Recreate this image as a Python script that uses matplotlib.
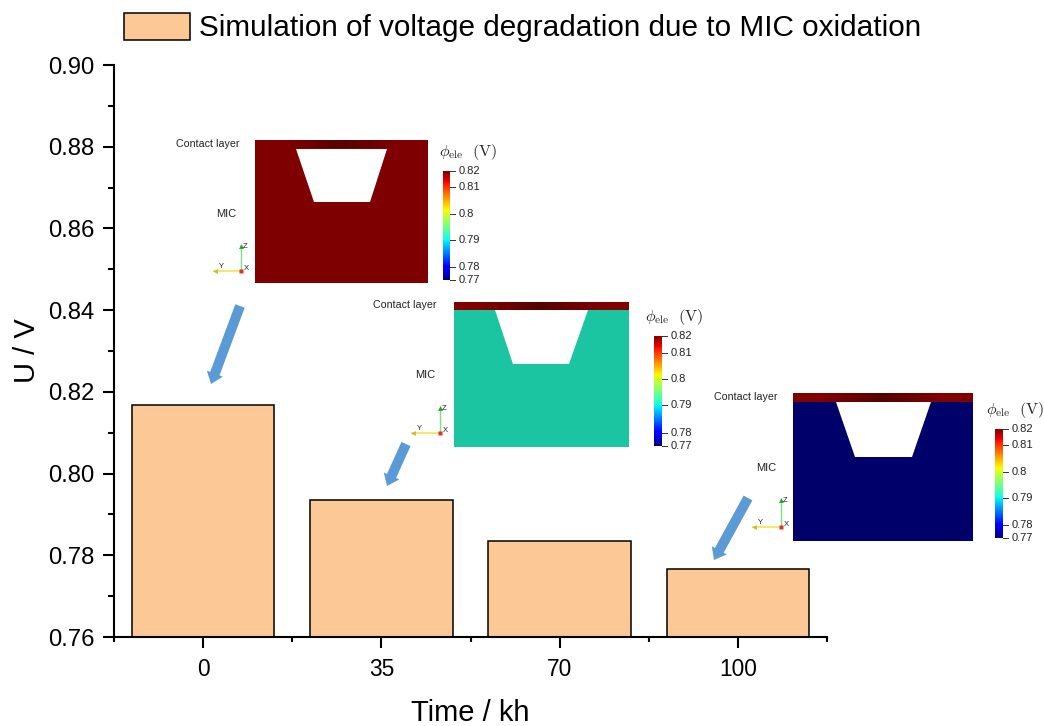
import numpy as np
import matplotlib
matplotlib.use("Agg")
import matplotlib.pyplot as plt
from matplotlib.colors import LinearSegmentedColormap
from matplotlib.patches import FancyArrow, Polygon, Rectangle
from matplotlib.ticker import MultipleLocator

plt.rcParams["font.family"] = ["Liberation Sans", "DejaVu Sans"]
plt.rcParams["mathtext.fontset"] = "cm"

# bar chart data
times = ["0", "35", "70", "100"]
voltages = [0.8168, 0.7935, 0.7836, 0.7766]
series_label = "Simulation of voltage degradation due to MIC oxidation"

# colour scale of the simulation snapshots
cbar_labels = ["0.82", "0.81", "0.8", "0.79", "0.78", "0.77"]
cbar_fracs = [0.0, 0.15, 0.39, 0.63, 0.88, 1.0]

BAR_COLOR = "#FCC896"
ARROW_COLOR = "#5B9BD5"
CONTACT_CMAP = LinearSegmentedColormap.from_list("contact", ["#800000", "#560000", "#800000"])

W, H = 1044, 726
fig = plt.figure(figsize=(W / 100, H / 100), dpi=100)


def px_axes(left, right, top, bottom):
    return fig.add_axes([left / W, 1 - bottom / H, (right - left) / W, (bottom - top) / H])


ax = px_axes(114, 827, 65, 637)
x = np.arange(len(times))
ax.bar(x, voltages, width=0.8, color=BAR_COLOR, edgecolor="black", linewidth=1.1, label=series_label)
ax.set_xlim(-0.5, 3.5)
ax.set_ylim(0.76, 0.90)
ax.set_xticks(x)
ax.set_xticklabels(times)
ax.xaxis.set_minor_locator(MultipleLocator(1, offset=0.5))
ax.yaxis.set_major_locator(MultipleLocator(0.02))
ax.yaxis.set_minor_locator(MultipleLocator(0.01))
ax.yaxis.set_major_formatter(lambda v, pos: f"{v:.2f}")
ax.spines[["top", "right"]].set_visible(False)
ax.spines[["left", "bottom"]].set_linewidth(1.5)
ax.tick_params(axis="y", which="major", length=8, width=1.5, labelsize=17.2, pad=6)
ax.tick_params(axis="x", which="major", length=8, width=1.5, labelsize=16.4, pad=7)
ax.tick_params(axis="y", which="minor", length=4.3, width=1.5)
ax.tick_params(axis="x", which="minor", length=3.7, width=1.5)
ax.set_xlabel("Time / kh", fontsize=21, labelpad=13)
ax.set_ylabel("U / V", fontsize=21, labelpad=5)
ax.legend(loc="center left", bbox_to_anchor=(124 / W, 1 - 27.5 / H), bbox_transform=fig.transFigure,
          frameon=False, fontsize=21.4, borderpad=0, borderaxespad=0,
          handlelength=2.22, handleheight=1.04, handletextpad=0.3)

# overlay in image pixels for the pasted simulation snapshots
ov = fig.add_axes([0, 0, 1, 1], facecolor="none")
ov.set_axis_off()


def draw_snapshot(box, contact_bottom, trap, body_color, cbar_box, title_xy, contact_xy, mic_xy, triad, arrow):
    x0, x1, y0, y1 = box
    ov.add_patch(Rectangle((x0, y0), x1 - x0, y1 - y0, facecolor=body_color, edgecolor="none", zorder=1))
    ov.imshow([[0, 0.5, 1]], extent=(x0, x1, contact_bottom, y0), cmap=CONTACT_CMAP,
              aspect="auto", interpolation="bilinear", zorder=2)
    ov.add_patch(Polygon(trap, closed=True, facecolor="white", edgecolor="none", zorder=3))

    # colour bar
    cx0, cx1, cy0, cy1 = cbar_box
    ramp = np.linspace(1, 0, 256).reshape(-1, 1)
    ov.imshow(ramp, extent=(cx0, cx1, cy1, cy0), cmap="jet", aspect="auto", zorder=2)
    for label, frac in zip(cbar_labels, cbar_fracs):
        yy = cy0 + frac * (cy1 - cy0)
        ov.plot([cx1, cx1 + 5], [yy, yy], color="#333333", lw=0.7)
        ov.text(cx1 + 9, yy, label, fontsize=8, color="#222222", ha="left", va="center")
    ov.text(title_xy[0], title_xy[1], r"$\phi_{\mathrm{ele}}\ \ \mathrm{(V)}$", fontsize=11.6, color="#222222",
            ha="left", va="center")

    ov.text(contact_xy[0], contact_xy[1], "Contact layer", fontsize=7.7, color="#222222", ha="left", va="center")
    ov.text(mic_xy[0], mic_xy[1], "MIC", fontsize=8, color="#222222", ha="left", va="center")

    # orientation triad
    ox, oy, zy, yx = triad
    ov.plot([ox, ox], [oy, zy], color="#7FE07F", lw=1)
    ov.plot([ox, yx], [oy, oy], color="#F2E64A", lw=1.2)
    ov.plot([yx + 1], [oy], marker="<", ms=3.5, color="#C9BE2A", mec="none")
    ov.plot([ox], [zy], marker="^", ms=3.5, color="#2CA02C", mec="none")
    ov.plot([ox], [oy], marker="s", ms=2.8, color="#E0322A", mec="none")
    ov.text(ox + 1.5, zy, "Z", fontsize=5.5, color="#222222", ha="left", va="center")
    ov.text(yx + 5, oy - 4, "Y", fontsize=5.5, color="#222222", ha="left", va="center")
    ov.text(ox + 3, oy - 3, "X", fontsize=5.5, color="#222222", ha="left", va="center")

    # arrow down to the bar
    ax0, ay0, ax1, ay1 = arrow
    ov.add_patch(FancyArrow(ax0, ay0, ax1 - ax0, ay1 - ay0, width=10, head_width=17, head_length=11,
                            length_includes_head=True, facecolor=ARROW_COLOR, edgecolor="none", zorder=3))


draw_snapshot((255, 428, 140, 283), 148, [(296, 149), (387, 149), (370, 202), (314, 202)], "#7F0000",
              (443, 450, 171, 280), (439, 152), (176, 144), (216, 214), (241, 271, 246, 214), (240, 306, 211, 384))
draw_snapshot((454, 629, 302, 447), 310, [(495, 310), (588, 310), (569, 364), (513, 364)], "#1BC5A2",
              (654, 662, 336, 446), (645, 317), (373, 305), (415, 375), (440, 433, 408, 412), (406, 444, 387, 486))
draw_snapshot((793, 973, 393, 541), 402, [(836, 402), (931, 402), (912, 457), (855, 457)], "#00006B",
              (995, 1003, 429, 538), (986, 410), (714, 397), (756, 468), (781, 527, 500, 753), (748, 498, 714, 560))

ov.set_xlim(0, W)
ov.set_ylim(H, 0)

fig.savefig("out.png", dpi=100)
